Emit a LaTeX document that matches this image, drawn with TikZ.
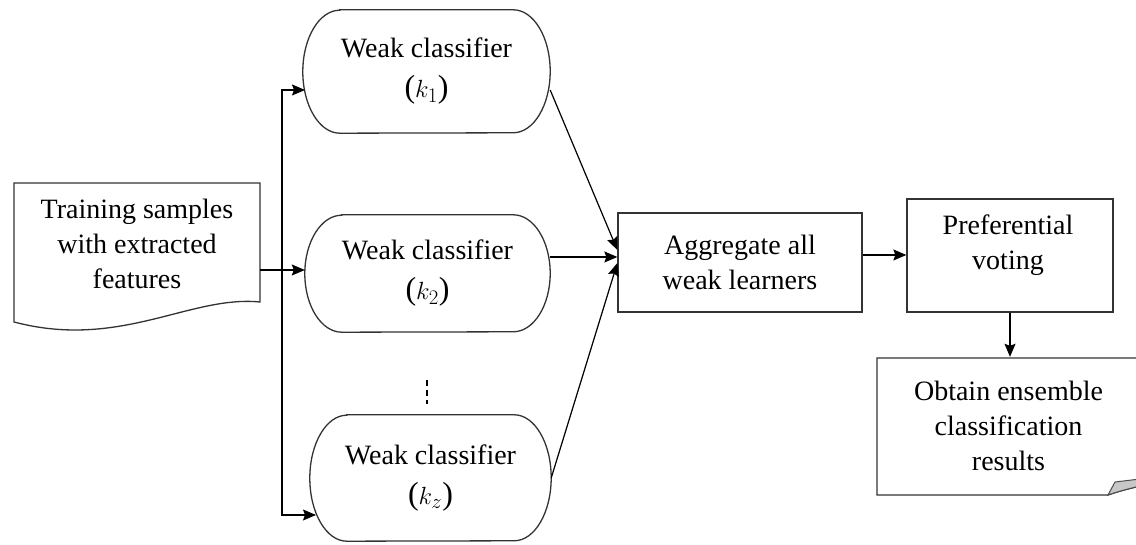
\documentclass[tikz,border=0pt]{standalone}
\usepackage{fontspec}
\setmainfont{Liberation Serif}
\usetikzlibrary{arrows.meta,calc}

\tikzset{
  outline/.style={draw=black!80, line width=1.3pt},
  arr/.style={line width=1.2pt, -{Stealth[length=13pt,width=11pt,inset=2pt]}},
  txt/.style={align=center, font=\fontsize{28}{35}\selectfont},
  kbox/.style={txt, font=\fontsize{28}{40}\selectfont, inner sep=0pt, minimum width=#1},
  frame/.style={inner sep=0pt},
}

% subscripted classifier label, set a little larger
\newcommand{\klabel}[1]{{\fontsize{32}{40}\selectfont($k_{#1}$)}}

% stadium-like box with elliptic ends drawn around a named node
\newcommand{\weakframe}[2]{%
  \draw[outline] ([xshift=37pt]#1.north west) -- ([xshift=-37pt]#1.north east)
    arc[start angle=90, end angle=-90, x radius=37, y radius=#2]
    -- ([xshift=37pt]#1.south west)
    arc[start angle=270, end angle=90, x radius=37, y radius=#2] -- cycle;}

\begin{document}
\begin{tikzpicture}[x=1pt, y=1pt]
\useasboundingbox (0,0) rectangle (1136,545);
\clip (0,0) rectangle (1136,545);

% input document
\node[txt, frame, minimum width=246pt, minimum height=119pt] (doc) at (137,301)
  {Training samples\\with extracted\\features};
\draw[outline] (14,362) -- (260,362) -- (260,243)
  .. controls (190,250) and (120,195) .. (14,223) -- cycle;

% weak classifiers
\node[kbox=247pt, minimum height=123pt] (k1) at (426.5,473.5) {Weak classifier\\\klabel{1}};
\weakframe{k1}{61.5}
\node[kbox=245pt, minimum height=117pt] (k2) at (427.5,271.5) {Weak classifier\\\klabel{2}};
\weakframe{k2}{58.5}
\node[kbox=241pt, minimum height=126pt] (kz) at (430.5,67) {Weak classifier\\\klabel{z}};
\weakframe{kz}{63}
\draw[line width=1.2pt, dash pattern=on 6pt off 4pt] (427,165) -- (427,141);

% aggregation and voting
\node[txt, outline, minimum width=244pt, minimum height=99pt] (agg) at (740,282.5)
  {Aggregate all\\weak learners};
\node[outline, minimum width=206pt, minimum height=113pt] (pref) at (1010,289.5) {};
\node[txt, frame] (preftext) at (1008,299.5) {Preferential\\voting};

% result note with folded corner
\node[txt, frame, minimum width=263pt, minimum height=137pt] (note) at (1008.5,119.5)
  {Obtain ensemble\\classification\\results};
\draw[outline] (1140,187) -- (877,187) -- (877,50) -- (1108,50)
  .. controls (1120,54) .. (1140,59);
\draw[draw=black!70, line width=1pt, fill=black!22]
  (1108,50) -- (1115,63) -- (1140,66) -- (1140,59) .. controls (1120,54) .. (1108,50) -- cycle;

% fan-out from the samples
\coordinate (split) at (282,275);
\coordinate (k1in) at (305,455);
\coordinate (kzin) at (316,30);
\draw[arr] (doc.east |- split) -- (k2.west |- split);
\draw[arr] (split) |- (k1in);
\draw[arr] (split) |- (kzin);

% classifiers into the aggregation step
\draw[arr] ([yshift=-18.5pt]k1.east) -- ([yshift=12.5pt]agg.west);
\draw[arr] ([yshift=16.5pt]k2.east) -- ([yshift=5.5pt]agg.west);
\draw[arr] (kz.east) -- ([yshift=-0.5pt]agg.west);

% aggregation to voting to result
\draw[arr] ([yshift=7.5pt]agg.east) -- ([yshift=7.5pt]agg.east -| pref.west);
\draw[arr] (pref.south) -- (pref.south |- note.north);
\end{tikzpicture}
\end{document}
